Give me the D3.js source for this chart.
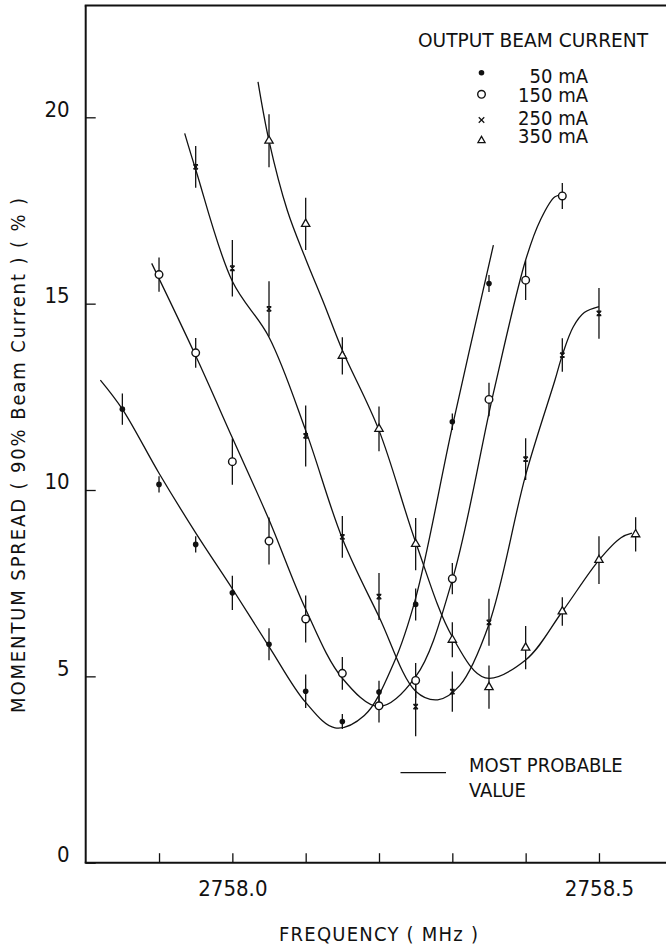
<!DOCTYPE html>
<html>
<head>
<meta charset="utf-8">
<script src="https://cdn.jsdelivr.net/npm/d3@7"></script>
<style>
  html, body { margin: 0; padding: 0; background: #fff; }
  svg { display: block; }
  text { font-family: "DejaVu Sans Condensed", "DejaVu Sans", sans-serif; fill: #111; }
</style>
</head>
<body>
<svg id="chart" width="666" height="946"></svg>
<script>
// ---------- data ----------
const xTickValues = [2757.9, 2758.0, 2758.1, 2758.2, 2758.3, 2758.4, 2758.5];
const xTickLabels = {"2758.0": "2758.0", "2758.5": "2758.5"};
const yTickValues = [0, 5, 10, 15, 20];

const seriesNames = ["50 mA", "150 mA", "250 mA", "350 mA"];

// measured points (frequency, momentum spread, half error bar)
const f50  = [2757.85, 2757.90, 2757.95, 2758.00, 2758.05, 2758.10, 2758.15, 2758.20, 2758.25, 2758.30, 2758.35];
const v50  = [12.17, 10.15, 8.54, 7.24, 5.86, 4.60, 3.79, 4.58, 6.93, 11.83, 15.54];
const e50  = [0.42, 0.22, 0.22, 0.46, 0.43, 0.45, 0.20, 0.30, 0.43, 0.22, 0.23];

const f150 = [2757.90, 2757.95, 2758.00, 2758.05, 2758.10, 2758.15, 2758.20, 2758.25, 2758.30, 2758.35, 2758.40, 2758.45];
const v150 = [15.78, 13.68, 10.76, 8.63, 6.54, 5.08, 4.21, 4.89, 7.62, 12.43, 15.63, 17.89];
const e150 = [0.46, 0.40, 0.62, 0.63, 0.63, 0.44, 0.45, 0.47, 0.42, 0.45, 0.53, 0.35];

const f250 = [2757.95, 2758.00, 2758.05, 2758.10, 2758.15, 2758.20, 2758.25, 2758.30, 2758.35, 2758.40, 2758.45, 2758.50];
const v250 = [18.67, 15.95, 14.86, 11.45, 8.74, 7.14, 4.19, 4.59, 6.45, 10.83, 13.62, 14.74];
const e250 = [0.56, 0.76, 0.74, 0.82, 0.56, 0.63, 0.80, 0.54, 0.63, 0.56, 0.45, 0.68];

const f350 = [2758.05, 2758.10, 2758.15, 2758.20, 2758.25, 2758.30, 2758.35, 2758.40, 2758.45, 2758.50, 2758.55];
const v350 = [19.37, 17.14, 13.60, 11.64, 8.55, 5.98, 4.71, 5.77, 6.74, 8.12, 8.81];
const e350 = [0.71, 0.70, 0.50, 0.60, 0.70, 0.47, 0.58, 0.58, 0.38, 0.64, 0.46];

// hand-drawn "most probable value" curves (frequency, value)
const c50f  = [2757.82, 2757.85, 2757.90, 2757.95, 2758.00, 2758.05, 2758.10, 2758.14, 2758.18, 2758.22, 2758.25, 2758.30, 2758.356];
const c50v  = [12.95, 12.17, 10.45, 8.85, 7.35, 5.8, 4.3, 3.62, 3.95, 5.35, 7.1, 11.7, 16.57];

const c150f = [2757.89, 2757.95, 2758.00, 2758.05, 2758.10, 2758.15, 2758.20, 2758.25, 2758.30, 2758.356, 2758.40, 2758.42, 2758.44, 2758.452];
const c150v = [16.08, 13.6, 11.4, 9.2, 6.8, 4.95, 4.19, 4.99, 7.59, 12.6, 16.17, 17.24, 17.87, 17.91];

const c250f = [2757.935, 2757.95, 2758.00, 2758.05, 2758.10, 2758.15, 2758.20, 2758.25, 2758.28, 2758.31, 2758.35, 2758.40, 2758.44, 2758.45, 2758.465, 2758.48, 2758.50];
const c250v = [19.57, 18.6, 15.6, 14.1, 11.6, 8.7, 6.6, 4.6, 4.37, 4.75, 6.4, 10.4, 12.95, 13.62, 14.38, 14.76, 14.92];

const c350f = [2758.035, 2758.05, 2758.075, 2758.10, 2758.125, 2758.15, 2758.20, 2758.25, 2758.30, 2758.345, 2758.40, 2758.45, 2758.50, 2758.53, 2758.545];
const c350v = [20.95, 19.37, 17.5, 16.2, 15.0, 13.75, 11.6, 8.6, 6.06, 4.96, 5.44, 6.74, 8.12, 8.72, 8.84];

// ---------- layout ----------
const W = 666, H = 946;
const mLeft = 85.7, mRight = 672.3, mTop = 5.5, mBottom = 862.7;
const svg = d3.select("#chart");

const x = d3.scaleLinear().domain([2757.8, 2758.6]).range([mLeft, mRight]);
const y = d3.scaleLinear().domain([0, 23]).range([mBottom, mTop]);

const zip = (a, b, c) => a.map((d, i) => ({f: d, v: b[i], e: c ? c[i] : 0}));
const series = [
  {name: seriesNames[0], pts: zip(f50, v50, e50),   curve: zip(c50f, c50v),   sym: "dot"},
  {name: seriesNames[1], pts: zip(f150, v150, e150), curve: zip(c150f, c150v), sym: "circle"},
  {name: seriesNames[2], pts: zip(f250, v250, e250), curve: zip(c250f, c250v), sym: "x"},
  {name: seriesNames[3], pts: zip(f350, v350, e350), curve: zip(c350f, c350v), sym: "tri"}
];

// ---------- axes ----------
const yAxis = d3.axisLeft(y).tickValues(yTickValues).tickSizeInner(-10).tickSizeOuter(0)
  .tickFormat(d3.format("d"));
const gy = svg.append("g").attr("transform", `translate(${mLeft},0)`).call(yAxis);
gy.select(".domain").remove();
gy.selectAll(".tick line").attr("stroke", "#111").attr("stroke-width", 1.3);
gy.selectAll(".tick text").attr("x", -16).attr("dy", "-0.05em")
  .style("font-size", "22px").style("font-family", '"DejaVu Sans Condensed", sans-serif').attr("fill", "#111");

const xAxis = d3.axisBottom(x).tickValues(xTickValues).tickSizeInner(-9.5).tickSizeOuter(0)
  .tickFormat(d => xTickLabels[d3.format(".1f")(d)] || "");
const gx = svg.append("g").attr("transform", `translate(0,${mBottom})`).call(xAxis);
gx.select(".domain").remove();
gx.selectAll(".tick line").attr("stroke", "#111").attr("stroke-width", 1.3);
gx.selectAll(".tick text").attr("y", 33).attr("dy", 0)
  .style("font-size", "22px").style("font-family", '"DejaVu Sans Condensed", sans-serif').attr("fill", "#111");

// frame
const frame = svg.append("g").attr("stroke", "#111").attr("stroke-width", 2).attr("fill", "none");
frame.append("line").attr("x1", mLeft).attr("x2", mLeft).attr("y1", y(23)).attr("y2", y(0));
frame.append("line").attr("x1", mLeft - 1).attr("x2", W).attr("y1", y(0)).attr("y2", y(0));
frame.append("line").attr("x1", mLeft - 1).attr("x2", W).attr("y1", y(23)).attr("y2", y(23));

// axis titles
svg.append("text").attr("x", 378.5).attr("y", 940.5).attr("text-anchor", "middle")
  .attr("textLength", 199).attr("lengthAdjust", "spacing")
  .style("font-size", "20px").text("FREQUENCY ( MHz )");
svg.append("text").attr("transform", `translate(25,${455.5}) rotate(-90)`).attr("text-anchor", "middle")
  .attr("textLength", 515).attr("lengthAdjust", "spacing")
  .style("font-size", "20px").text("MOMENTUM SPREAD ( 90% Beam Current ) ( % )");

// ---------- curves ----------
const line = d3.line().x(d => x(d.f)).y(d => y(d.v)).curve(d3.curveCatmullRom.alpha(0.5));
svg.append("g").selectAll("path").data(series).join("path")
  .attr("d", s => line(s.curve)).attr("fill", "none").attr("stroke", "#111").attr("stroke-width", 1.3);

// ---------- error bars ----------
const eb = svg.append("g").attr("stroke", "#111").attr("stroke-width", 1.3);
series.forEach(s => {
  eb.selectAll(null).data(s.pts).join("line")
    .attr("x1", d => x(d.f)).attr("x2", d => x(d.f))
    .attr("y1", d => y(d.v - d.e)).attr("y2", d => y(d.v + d.e));
});

// ---------- markers ----------
function drawMarker(g, sym, cx, cy, k, inPlot) {
  if (sym === "dot") {
    g.append("circle").attr("cx", cx).attr("cy", cy).attr("r", 2.8 * k).attr("fill", "#111");
  } else if (sym === "circle") {
    g.append("circle").attr("cx", cx).attr("cy", cy).attr("r", 3.8 * k)
      .attr("fill", "#fff").attr("stroke", "#111").attr("stroke-width", 1.4);
  } else if (sym === "x") {
    const r = 2.3 * k;
    let d = `M${-r},${-r}L${r},${r}M${-r},${r}L${r},${-r}`;
    if (inPlot) d += `M${-r},${-r}L${r},${-r}M${-r},${r}L${r},${r}`;
    g.append("path").attr("transform", `translate(${cx},${cy})`).attr("d", d)
      .attr("fill", "none").attr("stroke", "#111").attr("stroke-width", 1.2);
  } else {
    g.append("path").attr("transform", `translate(${cx},${cy})`)
      .attr("d", d3.symbol().type(d3.symbolTriangle).size(30 * k * k)())
      .attr("fill", "#fff").attr("stroke", "#111").attr("stroke-width", 1.3);
  }
}
const mk = svg.append("g");
series.forEach(s => s.pts.forEach(d => drawMarker(mk, s.sym, x(d.f), y(d.v), 1, true)));

// ---------- legend ----------
svg.append("text").attr("x", 648).attr("y", 46.7).attr("text-anchor", "end")
  .attr("textLength", 230).attr("lengthAdjust", "spacingAndGlyphs")
  .style("font-size", "20px").text("OUTPUT BEAM CURRENT");
const legY = [72.7, 94.3, 120, 140.5];
const legBase = [83.3, 101.7, 125, 143.3];
const legK = [1, 1, 1.2, 0.85];
const lg = svg.append("g");
series.forEach((s, i) => {
  drawMarker(lg, s.sym, 481.5, legY[i], legK[i], false);
  lg.append("text").attr("x", 588).attr("y", legBase[i]).attr("text-anchor", "end")
    .style("font-size", "20px").text(s.name);
});

// "most probable value" key
svg.append("line").attr("x1", 400.5).attr("x2", 446)
  .attr("y1", 772.7).attr("y2", 772.7).attr("stroke", "#111").attr("stroke-width", 1.3);
svg.append("text").attr("x", 469).attr("y", 771.7).style("font-size", "20px").text("MOST PROBABLE");
svg.append("text").attr("x", 469).attr("y", 796.7).style("font-size", "20px").text("VALUE");
</script>
</body>
</html>
